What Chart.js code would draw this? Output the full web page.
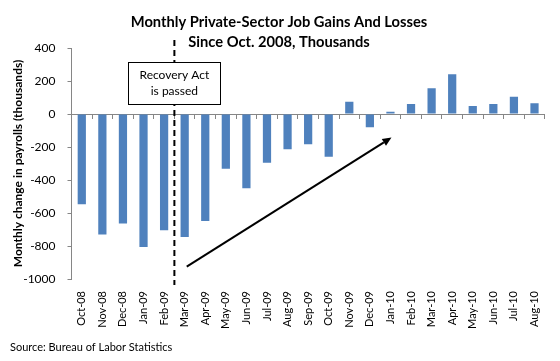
<!DOCTYPE html>
<html>
<head>
<meta charset="utf-8">
<script src="https://cdn.jsdelivr.net/npm/chart.js@4/dist/chart.umd.min.js"></script>
<style>
  html, body { margin: 0; padding: 0; background: #ffffff; }
  #wrap { width: 560px; height: 361px; }
</style>
</head>
<body>
<div id="wrap"><canvas id="c" width="560" height="361"></canvas></div>
<script>
// ---- data ----
const categories = ['Oct-08','Nov-08','Dec-08','Jan-09','Feb-09','Mar-09','Apr-09','May-09','Jun-09','Jul-09','Aug-09','Sep-09',
                    'Oct-09','Nov-09','Dec-09','Jan-10','Feb-10','Mar-10','Apr-10','May-10','Jun-10','Jul-10','Aug-10'];
const jobChange = [-547,-731,-664,-806,-705,-745,-648,-332,-450,-296,-213,-184,
                   -259,75,-81,14,61,156,241,49,61,105,65];
const yMin = -1000;
const yMax = 400;
const yStep = 200;
const titleLines = ['Monthly Private-Sector Job Gains And Losses', 'Since Oct. 2008, Thousands'];
const yAxisTitle = 'Monthly change in payrolls (thousands)';
const sourceText = 'Source: Bureau of Labor Statistics';
const boxLines = ['Recovery Act', 'is passed'];

const FONT = 'Lato, "Liberation Sans", sans-serif';
const AXIS = '#868686';

const annotations = {
  id: 'annotations',
  afterDraw(chart) {
    const ctx = chart.ctx;
    const x = chart.scales.x;
    const y = chart.scales.y;
    const area = chart.chartArea;
    ctx.save();
    // dashed line between Feb-09 and Mar-09
    const lx = (x.getPixelForValue(4) + x.getPixelForValue(5)) / 2;
    ctx.strokeStyle = '#000';
    ctx.lineWidth = 2;
    ctx.setLineDash([6, 4]);
    ctx.beginPath();
    ctx.moveTo(lx, area.top - 8);
    ctx.lineTo(lx, area.bottom + 6);
    ctx.stroke();
    ctx.setLineDash([]);
    // box
    const bw = 92, bh = 42;
    const bx = lx - bw / 2, by = area.top + 14;
    ctx.fillStyle = '#fff';
    ctx.fillRect(bx, by, bw, bh);
    ctx.lineWidth = 1;
    ctx.strokeRect(Math.round(bx) + 0.5, Math.round(by) + 0.5, bw, bh);
    ctx.fillStyle = '#000';
    ctx.font = '12px ' + FONT;
    ctx.textAlign = 'center';
    ctx.textBaseline = 'middle';
    ctx.fillText(boxLines[0], lx, by + 13);
    ctx.fillText(boxLines[1], lx, by + 29);
    // arrow (data coordinates)
    const x0 = x.getPixelForValue(5.1), y0 = y.getPixelForValue(-925);
    const x1 = x.getPixelForValue(15.05), y1 = y.getPixelForValue(-143);
    const ang = Math.atan2(y1 - y0, x1 - x0);
    const hl = 9, hw = 4;
    const bxA = x1 - hl * Math.cos(ang), byA = y1 - hl * Math.sin(ang);
    ctx.lineWidth = 2;
    ctx.beginPath();
    ctx.moveTo(x0, y0);
    ctx.lineTo(bxA, byA);
    ctx.stroke();
    ctx.beginPath();
    ctx.moveTo(x1, y1);
    ctx.lineTo(bxA + hw * Math.sin(ang), byA - hw * Math.cos(ang));
    ctx.lineTo(bxA - hw * Math.sin(ang), byA + hw * Math.cos(ang));
    ctx.closePath();
    ctx.fill();
    // title
    ctx.font = 'bold 14.7px ' + FONT;
    ctx.fillText(titleLines[0], 279, 22);
    ctx.fillText(titleLines[1], 279, 42);
    // source
    ctx.font = '11px ' + FONT;
    ctx.textAlign = 'left';
    ctx.fillText(sourceText, 10, 347);
    ctx.restore();
  }
};

new Chart(document.getElementById('c'), {
  type: 'bar',
  data: {
    labels: categories,
    datasets: [{
      data: jobChange,
      backgroundColor: '#4F81BD',
      borderWidth: 0,
      barPercentage: 0.4,
      categoryPercentage: 1.0
    }]
  },
  options: {
    responsive: false,
    animation: false,
    devicePixelRatio: 1,
    layout: { padding: { top: 48, right: 14, left: 0, bottom: 0 } },
    plugins: { legend: { display: false }, tooltip: { enabled: false }, title: { display: false } },
    scales: {
      x: {
        position: 'bottom',
        grid: { display: false, drawTicks: false },
        border: { display: false },
        ticks: { minRotation: 90, maxRotation: 90, autoSkip: false, padding: 12, color: '#000', font: { family: FONT, size: 11 } },
        afterFit(s) { s.height = 82; }
      },
      x2: {
        type: 'category',
        position: { y: 0 },
        offset: true,
        grid: { drawOnChartArea: false, offset: true, tickLength: 4, color: AXIS },
        border: { color: AXIS },
        ticks: { display: false }
      },
      y: {
        min: yMin,
        max: yMax,
        ticks: { stepSize: yStep, padding: 12, color: '#000', font: { family: FONT, size: 12 }, callback: v => String(v) },
        grid: { drawOnChartArea: false, tickLength: 4, color: AXIS },
        border: { color: AXIS },
        title: { display: true, text: yAxisTitle, color: '#000', font: { family: FONT, size: 12, weight: 'bold' }, padding: { top: 11, bottom: 0 } },
        afterFit(s) { s.width = 71.5; }
      }
    }
  },
  plugins: [annotations]
});
</script>
</body>
</html>
